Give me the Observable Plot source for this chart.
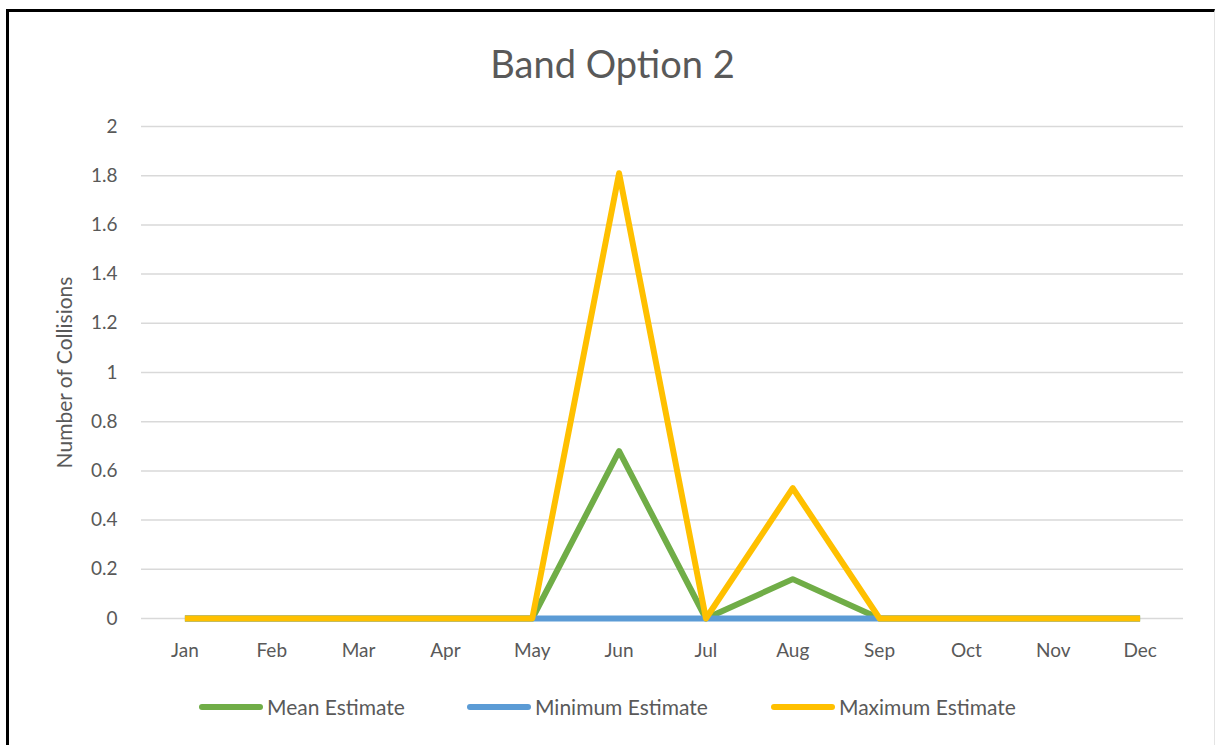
<!DOCTYPE html>
<html>
<head>
<meta charset="utf-8">
<script src="https://cdn.jsdelivr.net/npm/d3@7"></script>
<script src="https://cdn.jsdelivr.net/npm/@observablehq/plot@0.6"></script>
<style>
  html, body { margin: 0; padding: 0; background: #fff; }
  body { width: 1215px; height: 745px; position: relative; overflow: hidden; font-family: Lato, "Open Sans", sans-serif; }
  #frame { position: absolute; left: 6px; top: 9px; width: 1205px; height: 760px;
           border-left: 3px solid #000; border-top: 3px solid #000; border-right: 1px solid #e4e4e4; }
  #title { position: absolute; left: 0; width: 1225px; top: 40px; text-align: center;
           font-size: 38px; color: #595959; }
  #chart { position: absolute; left: 0; top: 0; }
  #legend { position: absolute; top: 694px; left: 0; width: 1215px; height: 26px; }
  .item { position: absolute; top: 0; display: flex; align-items: center; white-space: nowrap;
          font-size: 21px; color: #595959; }
  .swatch { flex: none; width: 64px; height: 6px; border-radius: 3px; margin-right: 4px; }
</style>
</head>
<body>
<div id="frame"></div>
<div id="title">Band Option 2</div>
<div id="chart"></div>
<div id="legend"></div>
<script>
// Monthly collision estimates for Band Option 2
const months = ["Jan", "Feb", "Mar", "Apr", "May", "Jun", "Jul", "Aug", "Sep", "Oct", "Nov", "Dec"];
const meanEstimate = [0, 0, 0, 0, 0, 0.68, 0, 0.16, 0, 0, 0, 0];
const minimumEstimate = [0, 0, 0, 0, 0, 0, 0, 0, 0, 0, 0, 0];
const maximumEstimate = [0, 0, 0, 0, 0, 1.81, 0, 0.53, 0, 0, 0, 0];
const yTicks = [0, 0.2, 0.4, 0.6, 0.8, 1, 1.2, 1.4, 1.6, 1.8, 2];

const seriesNames = ["Mean Estimate", "Minimum Estimate", "Maximum Estimate"];
const seriesColors = ["#70AD47", "#5B9BD5", "#FFC000"];
const seriesValues = [meanEstimate, minimumEstimate, maximumEstimate];

const rows = seriesNames.flatMap((name, s) =>
  months.map((m, i) => ({series: name, month: m, value: seriesValues[s][i]}))
);

const chart = Plot.plot({
  width: 1215,
  height: 680,
  marginLeft: 141,
  marginRight: 32,
  marginTop: 126,
  marginBottom: 62,
  style: {fontFamily: "Lato, 'Open Sans', sans-serif", fontSize: "17px", color: "#595959", background: "transparent"},
  x: {type: "point", domain: months, padding: 0.5, round: false, label: null},
  y: {domain: [0, 2], label: null},
  color: {domain: seriesNames, range: seriesColors},
  marks: [
    Plot.gridY(yTicks, {stroke: "#d9d9d9", strokeOpacity: 1, strokeWidth: 1.5}),
    Plot.axisX({tickSize: 0, tickPadding: 25, fill: "#595959", fontSize: 19}),
    Plot.axisY(yTicks, {tickSize: 0, tickPadding: 24, tickFormat: d => String(d), fill: "#595959", fontSize: 19}),
    Plot.text(["Number of Collisions"], {frameAnchor: "left", dx: -76, rotate: -90, textAnchor: "middle",
                                         fill: "#595959", fontSize: 21}),
    Plot.line(rows, {x: "month", y: "value", z: "series", stroke: "series", strokeWidth: 6,
                     strokeLinejoin: "round", strokeLinecap: "butt"})
  ]
});
document.getElementById("chart").appendChild(chart);

// Legend below the plot
const legend = document.getElementById("legend");
const legendX = [199, 467, 771];
seriesNames.forEach((name, i) => {
  const item = document.createElement("div");
  item.className = "item";
  item.style.left = legendX[i] + "px";
  const sw = document.createElement("div");
  sw.className = "swatch";
  sw.style.background = seriesColors[i];
  const label = document.createElement("span");
  label.textContent = name;
  item.appendChild(sw);
  item.appendChild(label);
  legend.appendChild(item);
});
</script>
</body>
</html>
